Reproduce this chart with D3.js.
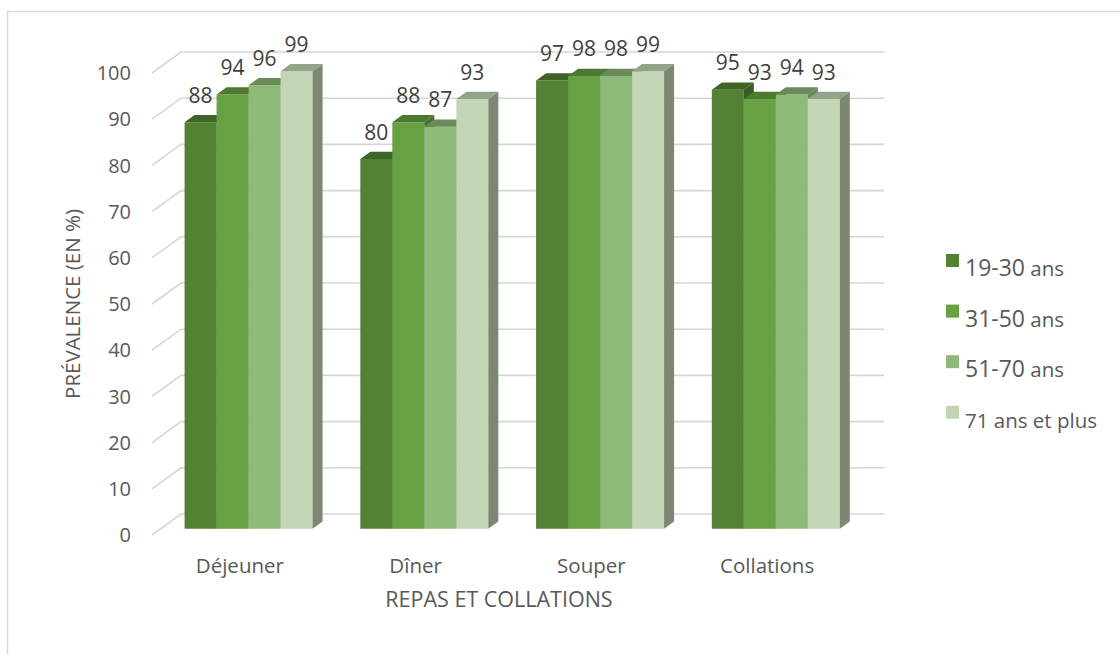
<!DOCTYPE html>
<html>
<head>
<meta charset="utf-8">
<script src="https://cdn.jsdelivr.net/npm/d3@7"></script>
<style>
  html, body { margin: 0; padding: 0; background: #fff; }
  svg { display: block; font-family: "Open Sans", "DejaVu Sans", sans-serif; }
</style>
</head>
<body>
<svg id="chart" width="1120" height="654"></svg>
<script>
// Meals and age groups
const categories = ["Déjeuner", "Dîner", "Souper", "Collations"];
const seriesNames = ["19-30 ans", "31-50 ans", "51-70 ans", "71 ans et plus"];
const v1930 = [88, 80, 97, 95];
const v3150 = [94, 88, 98, 93];
const v5170 = [96, 87, 98, 94];
const v71 = [99, 93, 99, 93];
const yTicks = [0, 10, 20, 30, 40, 50, 60, 70, 80, 90, 100];

const seriesValues = [v1930, v3150, v5170, v71];
const palette = [
  { front: "#548235", top: "#3f6428", side: "#3b5a26" },
  { front: "#67a143", top: "#4d7a31", side: "#4a7030" },
  { front: "#8fbb78", top: "#6b8b5a", side: "#6a8658" },
  { front: "#c2d6b6", top: "#93a389", side: "#7b8872" }
];

const svg = d3.select("#chart");

// Outer frame
svg.append("rect")
  .attr("x", 7.5).attr("y", 11.5)
  .attr("width", 1300).attr("height", 800)
  .attr("fill", "none").attr("stroke", "#d9d9d9").attr("stroke-width", 1.5);

// 3D projection: front plane scales plus a depth vector
const depth = { dx: 29, dy: -21 };
const y = d3.scaleLinear().domain([0, 100]).range([535, 73]);
const x = d3.scaleBand().domain(categories).range([152, 855]).padding(0);
const groupWidth = 128;
const xs = d3.scaleBand().domain(seriesNames).range([0, groupWidth]).padding(0);
const barFront = 0.3, barBack = 0.645;   // depth fractions of the bar faces

const grid = svg.append("g").attr("fill", "none")
  .attr("stroke", "#d6d6d6").attr("stroke-width", 1.6);

// Side wall (diagonals) and back wall (horizontals)
yTicks.forEach(t => {
  const yf = y(t), yb = y(t) + depth.dy;
  const x0 = x.range()[0], x0b = x0 + depth.dx, x1b = x.range()[1] + depth.dx;
  grid.append("path").attr("d", `M${x0},${yf}L${x0b},${yb}L${x1b},${yb}`);
});

// Value axis labels
svg.append("g").selectAll("text").data(yTicks).join("text")
  .attr("x", 131).attr("y", d => y(d)).attr("dy", "0.36em")
  .attr("text-anchor", "end").attr("fill", "#595959")
  .attr("font-size", 20).text(d => d);

// Bars, drawn left to right so each front face covers its neighbour's side
const ox = barFront * depth.dx, oy = barFront * depth.dy;
const bdx = (barBack - barFront) * depth.dx, bdy = (barBack - barFront) * depth.dy;
const bars = svg.append("g");
const labels = svg.append("g");

categories.forEach((cat, ci) => {
  const gx = x(cat) + x.bandwidth() / 2 - groupWidth / 2;
  seriesNames.forEach((s, si) => {
    const v = seriesValues[si][ci];
    const c = palette[si];
    const xl = gx + xs(s) + ox, xr = xl + xs.bandwidth();
    const yt = y(v) + oy, yb = y(0) + oy;
    const g = bars.append("g");
    g.append("path").attr("fill", c.front)
      .attr("d", `M${xl},${yb}L${xl},${yt}L${xr},${yt}L${xr},${yb}Z`);
    g.append("path").attr("fill", c.top)
      .attr("d", `M${xl},${yt}L${xl + bdx},${yt + bdy}L${xr + bdx},${yt + bdy}L${xr},${yt}Z`);
    g.append("path").attr("fill", c.side)
      .attr("d", `M${xr},${yt}L${xr + bdx},${yt + bdy}L${xr + bdx},${yb + bdy}L${xr},${yb}Z`);
    labels.append("text")
      .attr("x", (xl + xr) / 2).attr("y", yt - 19.5)
      .attr("text-anchor", "middle").attr("fill", "#404040")
      .attr("font-size", 21).text(v);
  });
});

// Category labels
svg.append("g").selectAll("text").data(categories).join("text")
  .attr("x", d => x(d) + x.bandwidth() / 2).attr("y", 573)
  .attr("text-anchor", "middle").attr("fill", "#595959")
  .attr("font-size", 20.5).text(d => d);

// Axis titles
svg.append("text").attr("x", 499).attr("y", 607)
  .attr("text-anchor", "middle").attr("fill", "#595959")
  .attr("font-size", 21.5).text("REPAS ET COLLATIONS");
svg.append("text")
  .attr("transform", "translate(80,304) rotate(-90)")
  .attr("text-anchor", "middle").attr("fill", "#595959")
  .attr("font-size", 20.5).text("PRÉVALENCE (EN %)");

// Legend
const legend = svg.append("g");
seriesNames.forEach((s, i) => {
  const ly = 254 + i * 50.6;
  legend.append("rect").attr("x", 946).attr("y", ly)
    .attr("width", 13).attr("height", 13).attr("fill", palette[i].front);
  const t = legend.append("text").attr("x", 965).attr("y", ly + 22)
    .attr("fill", "#595959").attr("font-size", 20.5);
  const m = s.match(/^(\d+-\d+)(.*)$/);
  if (m) {
    t.append("tspan").attr("font-size", 23).text(m[1]);
    t.append("tspan").text(m[2]);
  } else {
    t.text(s);
  }
});
</script>
</body>
</html>
